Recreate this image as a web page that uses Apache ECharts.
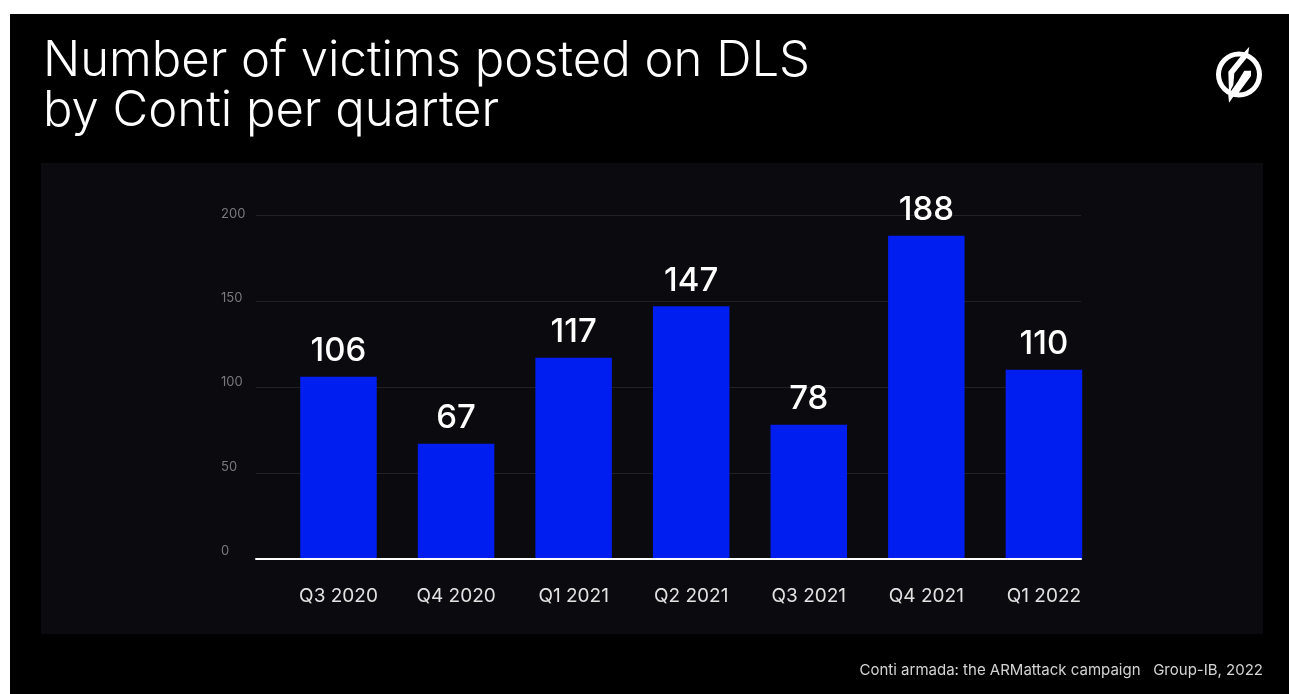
<!DOCTYPE html>
<html>
<head>
<meta charset="utf-8">
<title>Number of victims posted on DLS by Conti per quarter</title>
<style>
html,body{margin:0;padding:0;background:#fff;}
#chart{width:1289px;height:694px;}
</style>
<script src="https://cdn.jsdelivr.net/npm/echarts@6/dist/echarts.min.js"></script>
</head>
<body>
<div id="chart"></div>
<script>
const quarters = ['Q3 2020','Q4 2020','Q1 2021','Q2 2021','Q3 2021','Q4 2021','Q1 2022'];
const victims = [106, 67, 117, 147, 78, 188, 110];
const axisTicks = [0, 50, 100, 150, 200];
const headline = 'Number of victims posted on DLS\nby Conti per quarter';
const credit = 'Conti armada: the ARMattack campaign   Group-IB, 2022';

const FONT = 'Inter, "Noto Sans", sans-serif';
const chart = echarts.init(document.getElementById('chart'), null, {renderer:'canvas'});

chart.setOption({
  animation:false,
  backgroundColor:'#ffffff',
  textStyle:{fontFamily:FONT},
  graphic:[
    {type:'rect',z:-10,shape:{x:10,y:14,width:1279,height:680},style:{fill:'#000000'}},
    {type:'rect',z:-9,shape:{x:41,y:163,width:1222,height:471},style:{fill:'#0b0b0f'}},
    // brand mark: ring crossed by a slashed hook
    {type:'group',z:5,children:[
      {type:'ring',shape:{cx:1239,cy:74.5,r:23,r0:18},style:{fill:'#ffffff'}},
      {type:'polygon',shape:{points:[[1249.3,46.7],[1247.7,56.7],[1234.3,73.3],[1233.3,85],[1229,93.3],[1228.3,71.7],[1243.3,53.3]]},style:{fill:'#ffffff'}},
      {type:'polygon',shape:{points:[[1229,102.7],[1228.3,95],[1237.7,81.7],[1244.3,70.7],[1251,70.7],[1251,76],[1238.3,93.3],[1233.3,96.7]]},style:{fill:'#ffffff'}}
    ]},
    {type:'text',z:5,left:43,top:36,style:{text:headline,fill:'#ffffff',font:'350 49px '+FONT,lineHeight:50}},
    {type:'text',z:5,right:26,top:663,style:{text:credit,fill:'#d4d4d4',font:'400 15px '+FONT}}
  ],
  grid:[
    // frame: gridlines and baseline
    {left:256,right:208,top:215,bottom:135},
    // bars
    {left:279.7,width:823,top:215,bottom:135},
    // value labels sit slightly above their gridlines
    {left:256,right:208,top:214,bottom:143}
  ],
  xAxis:[
    {gridIndex:0,type:'category',data:quarters,axisTick:{show:false},axisLabel:{show:false},
      axisLine:{show:true,lineStyle:{color:'#ffffff',width:2}},z:4},
    {gridIndex:1,type:'category',data:quarters,axisTick:{show:false},axisLine:{show:false},
      axisLabel:{color:'#e2e2e2',fontSize:19,fontFamily:FONT,margin:28,interval:0}},
    {gridIndex:2,type:'category',data:quarters,show:false}
  ],
  yAxis:[
    {gridIndex:0,type:'value',min:0,max:200,interval:50,axisLine:{show:false},axisTick:{show:false},
      axisLabel:{show:false},splitLine:{lineStyle:{color:'#222226',width:1}}},
    {gridIndex:1,type:'value',min:0,max:200,interval:50,show:false},
    {gridIndex:2,type:'value',min:0,max:200,interval:50,axisLine:{show:false},axisTick:{show:false},
      splitLine:{show:false},
      axisLabel:{color:'#7a7a7c',fontSize:13,fontFamily:FONT,align:'left',margin:35,
        customValues:axisTicks}}
  ],
  series:[{
    type:'bar',xAxisIndex:1,yAxisIndex:1,data:victims,barWidth:76.5,z:3,
    itemStyle:{color:'#001eef'},
    label:{show:true,position:'top',distance:9,color:'#ffffff',fontSize:33,fontWeight:500,fontFamily:FONT}
  }]
});
</script>
</body>
</html>
